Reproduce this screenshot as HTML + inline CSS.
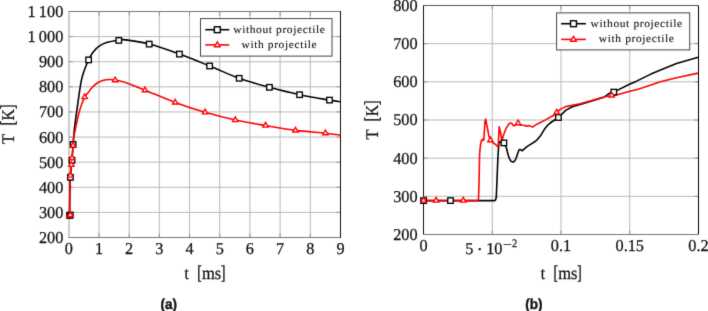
<!DOCTYPE html>
<html><head><meta charset="utf-8"><style>
html,body{margin:0;padding:0;background:#fff;width:708px;height:311px;overflow:hidden}
text{text-rendering:geometricPrecision}
svg{display:block}
.tk{font-family:"Liberation Serif",serif;fill:#111;stroke:#111;stroke-width:0.25px}
.lg{font-family:"Liberation Serif",serif;fill:#111;stroke:#111;stroke-width:0.1px}
.cap{font-family:"Liberation Sans",sans-serif;font-weight:bold;font-size:13.5px;fill:#111;stroke:#111;stroke-width:0.35px}
</style></head><body>
<svg width="708" height="311" viewBox="0 0 708 311">
<defs><filter id="bl" x="0" y="0" width="708" height="311" filterUnits="userSpaceOnUse" color-interpolation-filters="sRGB"><feConvolveMatrix order="3" kernelMatrix="0.01145 0.08421 0.01145 0.08421 0.61937 0.08421 0.01145 0.08421 0.01145" divisor="1" edgeMode="duplicate"/></filter></defs>
<g>
<line x1="98.99" y1="237.50" x2="98.99" y2="11.50" stroke="#b8b8b8" stroke-width="1"/>
<line x1="129.18" y1="237.50" x2="129.18" y2="11.50" stroke="#b8b8b8" stroke-width="1"/>
<line x1="159.37" y1="237.50" x2="159.37" y2="11.50" stroke="#b8b8b8" stroke-width="1"/>
<line x1="189.56" y1="237.50" x2="189.56" y2="11.50" stroke="#b8b8b8" stroke-width="1"/>
<line x1="219.74" y1="237.50" x2="219.74" y2="11.50" stroke="#b8b8b8" stroke-width="1"/>
<line x1="249.93" y1="237.50" x2="249.93" y2="11.50" stroke="#b8b8b8" stroke-width="1"/>
<line x1="280.12" y1="237.50" x2="280.12" y2="11.50" stroke="#b8b8b8" stroke-width="1"/>
<line x1="310.31" y1="237.50" x2="310.31" y2="11.50" stroke="#b8b8b8" stroke-width="1"/>
<line x1="68.80" y1="212.39" x2="340.50" y2="212.39" stroke="#b8b8b8" stroke-width="1"/>
<line x1="68.80" y1="187.28" x2="340.50" y2="187.28" stroke="#b8b8b8" stroke-width="1"/>
<line x1="68.80" y1="162.17" x2="340.50" y2="162.17" stroke="#b8b8b8" stroke-width="1"/>
<line x1="68.80" y1="137.06" x2="340.50" y2="137.06" stroke="#b8b8b8" stroke-width="1"/>
<line x1="68.80" y1="111.94" x2="340.50" y2="111.94" stroke="#b8b8b8" stroke-width="1"/>
<line x1="68.80" y1="86.83" x2="340.50" y2="86.83" stroke="#b8b8b8" stroke-width="1"/>
<line x1="68.80" y1="61.72" x2="340.50" y2="61.72" stroke="#b8b8b8" stroke-width="1"/>
<line x1="68.80" y1="36.61" x2="340.50" y2="36.61" stroke="#b8b8b8" stroke-width="1"/>
<line x1="492.25" y1="234.50" x2="492.25" y2="5.50" stroke="#b8b8b8" stroke-width="1"/>
<line x1="561.00" y1="234.50" x2="561.00" y2="5.50" stroke="#b8b8b8" stroke-width="1"/>
<line x1="629.75" y1="234.50" x2="629.75" y2="5.50" stroke="#b8b8b8" stroke-width="1"/>
<line x1="423.50" y1="196.33" x2="698.50" y2="196.33" stroke="#b8b8b8" stroke-width="1"/>
<line x1="423.50" y1="158.17" x2="698.50" y2="158.17" stroke="#b8b8b8" stroke-width="1"/>
<line x1="423.50" y1="120.00" x2="698.50" y2="120.00" stroke="#b8b8b8" stroke-width="1"/>
<line x1="423.50" y1="81.83" x2="698.50" y2="81.83" stroke="#b8b8b8" stroke-width="1"/>
<line x1="423.50" y1="43.67" x2="698.50" y2="43.67" stroke="#b8b8b8" stroke-width="1"/>
<line x1="98.99" y1="237.50" x2="98.99" y2="233.50" stroke="#8c8c8c" stroke-width="0.9"/>
<line x1="98.99" y1="11.50" x2="98.99" y2="15.50" stroke="#8c8c8c" stroke-width="0.9"/>
<line x1="129.18" y1="237.50" x2="129.18" y2="233.50" stroke="#8c8c8c" stroke-width="0.9"/>
<line x1="129.18" y1="11.50" x2="129.18" y2="15.50" stroke="#8c8c8c" stroke-width="0.9"/>
<line x1="159.37" y1="237.50" x2="159.37" y2="233.50" stroke="#8c8c8c" stroke-width="0.9"/>
<line x1="159.37" y1="11.50" x2="159.37" y2="15.50" stroke="#8c8c8c" stroke-width="0.9"/>
<line x1="189.56" y1="237.50" x2="189.56" y2="233.50" stroke="#8c8c8c" stroke-width="0.9"/>
<line x1="189.56" y1="11.50" x2="189.56" y2="15.50" stroke="#8c8c8c" stroke-width="0.9"/>
<line x1="219.74" y1="237.50" x2="219.74" y2="233.50" stroke="#8c8c8c" stroke-width="0.9"/>
<line x1="219.74" y1="11.50" x2="219.74" y2="15.50" stroke="#8c8c8c" stroke-width="0.9"/>
<line x1="249.93" y1="237.50" x2="249.93" y2="233.50" stroke="#8c8c8c" stroke-width="0.9"/>
<line x1="249.93" y1="11.50" x2="249.93" y2="15.50" stroke="#8c8c8c" stroke-width="0.9"/>
<line x1="280.12" y1="237.50" x2="280.12" y2="233.50" stroke="#8c8c8c" stroke-width="0.9"/>
<line x1="280.12" y1="11.50" x2="280.12" y2="15.50" stroke="#8c8c8c" stroke-width="0.9"/>
<line x1="310.31" y1="237.50" x2="310.31" y2="233.50" stroke="#8c8c8c" stroke-width="0.9"/>
<line x1="310.31" y1="11.50" x2="310.31" y2="15.50" stroke="#8c8c8c" stroke-width="0.9"/>
<line x1="68.80" y1="212.39" x2="72.80" y2="212.39" stroke="#8c8c8c" stroke-width="0.9"/>
<line x1="340.50" y1="212.39" x2="336.50" y2="212.39" stroke="#8c8c8c" stroke-width="0.9"/>
<line x1="68.80" y1="187.28" x2="72.80" y2="187.28" stroke="#8c8c8c" stroke-width="0.9"/>
<line x1="340.50" y1="187.28" x2="336.50" y2="187.28" stroke="#8c8c8c" stroke-width="0.9"/>
<line x1="68.80" y1="162.17" x2="72.80" y2="162.17" stroke="#8c8c8c" stroke-width="0.9"/>
<line x1="340.50" y1="162.17" x2="336.50" y2="162.17" stroke="#8c8c8c" stroke-width="0.9"/>
<line x1="68.80" y1="137.06" x2="72.80" y2="137.06" stroke="#8c8c8c" stroke-width="0.9"/>
<line x1="340.50" y1="137.06" x2="336.50" y2="137.06" stroke="#8c8c8c" stroke-width="0.9"/>
<line x1="68.80" y1="111.94" x2="72.80" y2="111.94" stroke="#8c8c8c" stroke-width="0.9"/>
<line x1="340.50" y1="111.94" x2="336.50" y2="111.94" stroke="#8c8c8c" stroke-width="0.9"/>
<line x1="68.80" y1="86.83" x2="72.80" y2="86.83" stroke="#8c8c8c" stroke-width="0.9"/>
<line x1="340.50" y1="86.83" x2="336.50" y2="86.83" stroke="#8c8c8c" stroke-width="0.9"/>
<line x1="68.80" y1="61.72" x2="72.80" y2="61.72" stroke="#8c8c8c" stroke-width="0.9"/>
<line x1="340.50" y1="61.72" x2="336.50" y2="61.72" stroke="#8c8c8c" stroke-width="0.9"/>
<line x1="68.80" y1="36.61" x2="72.80" y2="36.61" stroke="#8c8c8c" stroke-width="0.9"/>
<line x1="340.50" y1="36.61" x2="336.50" y2="36.61" stroke="#8c8c8c" stroke-width="0.9"/>
<line x1="492.25" y1="234.50" x2="492.25" y2="230.50" stroke="#8c8c8c" stroke-width="0.9"/>
<line x1="492.25" y1="5.50" x2="492.25" y2="9.50" stroke="#8c8c8c" stroke-width="0.9"/>
<line x1="561.00" y1="234.50" x2="561.00" y2="230.50" stroke="#8c8c8c" stroke-width="0.9"/>
<line x1="561.00" y1="5.50" x2="561.00" y2="9.50" stroke="#8c8c8c" stroke-width="0.9"/>
<line x1="629.75" y1="234.50" x2="629.75" y2="230.50" stroke="#8c8c8c" stroke-width="0.9"/>
<line x1="629.75" y1="5.50" x2="629.75" y2="9.50" stroke="#8c8c8c" stroke-width="0.9"/>
<line x1="423.50" y1="196.33" x2="427.50" y2="196.33" stroke="#8c8c8c" stroke-width="0.9"/>
<line x1="698.50" y1="196.33" x2="694.50" y2="196.33" stroke="#8c8c8c" stroke-width="0.9"/>
<line x1="423.50" y1="158.17" x2="427.50" y2="158.17" stroke="#8c8c8c" stroke-width="0.9"/>
<line x1="698.50" y1="158.17" x2="694.50" y2="158.17" stroke="#8c8c8c" stroke-width="0.9"/>
<line x1="423.50" y1="120.00" x2="427.50" y2="120.00" stroke="#8c8c8c" stroke-width="0.9"/>
<line x1="698.50" y1="120.00" x2="694.50" y2="120.00" stroke="#8c8c8c" stroke-width="0.9"/>
<line x1="423.50" y1="81.83" x2="427.50" y2="81.83" stroke="#8c8c8c" stroke-width="0.9"/>
<line x1="698.50" y1="81.83" x2="694.50" y2="81.83" stroke="#8c8c8c" stroke-width="0.9"/>
<line x1="423.50" y1="43.67" x2="427.50" y2="43.67" stroke="#8c8c8c" stroke-width="0.9"/>
<line x1="698.50" y1="43.67" x2="694.50" y2="43.67" stroke="#8c8c8c" stroke-width="0.9"/>
<line x1="69.00" y1="11.50" x2="69.00" y2="237.50" stroke="#999" stroke-width="1.0"/>
<line x1="68.50" y1="11.50" x2="341.00" y2="11.50" stroke="#777" stroke-width="1.0"/>
<line x1="68.50" y1="237.50" x2="341.00" y2="237.50" stroke="#777" stroke-width="1.0"/>
<line x1="340.50" y1="11.00" x2="340.50" y2="238.00" stroke="#111" stroke-width="1.0"/>
<line x1="423.50" y1="5.00" x2="423.50" y2="235.00" stroke="#111" stroke-width="1.0"/>
<line x1="698.50" y1="5.00" x2="698.50" y2="235.00" stroke="#000" stroke-width="1.0"/>
<line x1="423.00" y1="5.50" x2="699.00" y2="5.50" stroke="#555" stroke-width="1.0"/>
<line x1="423.00" y1="234.50" x2="699.00" y2="234.50" stroke="#777" stroke-width="1.0"/>
<path d="M69.60,215.40 C69.63,212.00 69.67,201.35 69.80,195.00 C69.93,188.65 70.17,181.80 70.40,177.30 C70.63,172.80 70.93,170.83 71.20,168.00 C71.47,165.17 71.77,162.97 72.00,160.30 C72.23,157.63 72.38,155.05 72.60,152.00 C72.82,148.95 73.02,145.63 73.30,142.00 C73.58,138.37 73.90,134.10 74.30,130.20 C74.70,126.30 75.15,122.78 75.70,118.60 C76.25,114.42 76.97,109.60 77.60,105.10 C78.23,100.60 78.83,95.88 79.50,91.60 C80.17,87.32 80.77,83.03 81.60,79.40 C82.43,75.77 83.33,73.05 84.50,69.80 C85.67,66.55 87.18,62.83 88.60,59.90 C90.02,56.97 91.30,54.45 93.00,52.20 C94.70,49.95 96.55,48.02 98.80,46.40 C101.05,44.78 103.18,43.53 106.50,42.50 C109.82,41.47 115.45,40.63 118.70,40.20 C121.95,39.77 120.92,39.25 126.00,39.90 C131.08,40.55 140.30,41.73 149.20,44.10 C158.10,46.47 169.33,50.45 179.40,54.10 C189.47,57.75 199.63,61.97 209.60,66.00 C219.57,70.03 229.23,74.75 239.20,78.30 C249.17,81.85 259.33,84.57 269.40,87.30 C279.47,90.03 289.58,92.57 299.60,94.70 C309.62,96.83 322.70,98.93 329.50,100.10 C336.30,101.27 338.58,101.43 340.40,101.70" fill="none" stroke="#000" stroke-width="1.6" stroke-linejoin="round"/>
<path d="M69.60,215.40 C69.63,212.00 69.67,201.65 69.80,195.00 C69.93,188.35 70.13,180.53 70.40,175.50 C70.67,170.47 71.13,167.68 71.40,164.80 C71.67,161.92 71.80,160.50 72.00,158.20 C72.20,155.90 72.32,154.38 72.60,151.00 C72.88,147.62 73.13,142.02 73.70,137.90 C74.27,133.78 75.20,130.17 76.00,126.30 C76.80,122.43 77.60,118.23 78.50,114.70 C79.40,111.17 80.33,108.08 81.40,105.10 C82.47,102.12 83.72,98.95 84.90,96.80 C86.08,94.65 87.42,93.62 88.50,92.20 C89.58,90.78 90.27,89.58 91.40,88.30 C92.53,87.02 93.85,85.62 95.30,84.50 C96.75,83.38 98.33,82.38 100.10,81.60 C101.87,80.82 104.25,80.15 105.90,79.80 C107.55,79.45 108.48,79.47 110.00,79.50 C111.52,79.53 112.68,79.57 115.00,80.00 C117.32,80.43 118.90,80.40 123.90,82.10 C128.90,83.80 136.45,86.82 145.00,90.20 C153.55,93.58 165.18,98.72 175.20,102.40 C185.22,106.08 195.08,109.37 205.10,112.30 C215.12,115.23 225.22,117.80 235.30,120.00 C245.38,122.20 255.57,123.77 265.60,125.50 C275.63,127.23 285.53,129.12 295.50,130.40 C305.47,131.68 317.92,132.40 325.40,133.20 C332.88,134.00 337.90,134.87 340.40,135.20" fill="none" stroke="#f00" stroke-width="1.6" stroke-linejoin="round"/>
<path d="M423.40,200.60 L494.60,200.60 L495.60,199.80 L496.30,197.00 L497.00,180.00 L497.80,160.00 L498.50,148.00 L499.20,141.70 L501.00,142.20 L503.90,142.90 L505.20,145.00 L506.40,148.00 L507.40,152.00 L508.40,155.70 L509.40,158.50 L510.30,160.20 L511.20,161.40 L512.20,161.90 L513.20,161.90 L514.10,161.50 L515.10,160.20 L516.10,158.30 L517.00,155.50 L518.00,152.50 L518.80,150.50 L519.50,149.50 L520.50,149.50 L521.30,150.30 L522.10,150.80 L523.80,149.30 L527.00,146.70 L530.90,144.10 L534.70,141.80 L537.30,139.60 L540.90,135.20 L544.70,128.80 L548.60,124.30 L551.60,122.00 L558.40,117.50 L565.70,110.40 L572.20,106.80 L580.00,104.60 L591.00,101.20 L603.80,97.30 L608.90,93.60 L613.80,92.10 L616.60,90.60 L629.50,84.20 L636.00,81.40 L650.90,74.10 L663.00,68.90 L676.50,63.50 L698.20,57.20" fill="none" stroke="#000" stroke-width="1.6" stroke-linejoin="round"/>
<path d="M423.40,200.60 L470.00,200.60 L477.60,200.60 L478.50,199.00 L479.00,185.00 L479.30,170.00 L479.60,154.00 L480.50,144.90 L481.10,141.70 L481.80,139.70 L482.70,140.40 L483.10,139.10 L483.80,140.00 L485.00,121.70 L485.60,119.10 L486.90,125.60 L488.20,132.00 L488.90,136.50 L490.10,137.20 L491.20,139.50 L492.70,142.30 L494.00,143.60 L495.30,144.20 L496.60,145.50 L497.90,146.80 L498.40,143.00 L499.20,126.90 L500.40,132.00 L501.70,139.10 L502.30,139.30 L503.70,134.60 L505.60,129.40 L508.20,124.90 L510.10,123.00 L511.90,123.30 L513.20,125.60 L514.50,125.60 L516.00,124.30 L518.10,122.60 L520.30,124.90 L522.90,125.30 L525.40,125.60 L526.70,126.20 L529.30,125.60 L532.50,127.10 L535.70,124.90 L540.00,122.70 L546.40,119.40 L552.90,115.80 L556.70,112.60 L560.60,109.10 L565.70,106.60 L572.20,105.30 L580.00,103.80 L591.00,100.80 L603.80,97.00 L611.70,95.50 L616.60,94.90 L627.00,92.10 L638.00,89.30 L648.00,86.00 L660.30,81.80 L676.50,77.70 L698.20,73.10" fill="none" stroke="#f00" stroke-width="1.6" stroke-linejoin="round"/>
<rect x="66.85" y="212.65" width="5.50" height="5.50" fill="#fff" stroke="#000" stroke-width="1.35"/>
<rect x="67.55" y="212.35" width="5.50" height="5.50" fill="#fff" stroke="#000" stroke-width="1.35"/>
<rect x="67.65" y="174.55" width="5.50" height="5.50" fill="#fff" stroke="#000" stroke-width="1.35"/>
<rect x="69.25" y="157.55" width="5.50" height="5.50" fill="#fff" stroke="#000" stroke-width="1.35"/>
<rect x="70.35" y="141.75" width="5.50" height="5.50" fill="#fff" stroke="#000" stroke-width="1.35"/>
<rect x="85.85" y="57.15" width="5.50" height="5.50" fill="#fff" stroke="#000" stroke-width="1.35"/>
<rect x="116.05" y="37.65" width="5.50" height="5.50" fill="#fff" stroke="#000" stroke-width="1.35"/>
<rect x="146.45" y="41.35" width="5.50" height="5.50" fill="#fff" stroke="#000" stroke-width="1.35"/>
<rect x="176.65" y="51.35" width="5.50" height="5.50" fill="#fff" stroke="#000" stroke-width="1.35"/>
<rect x="206.85" y="63.25" width="5.50" height="5.50" fill="#fff" stroke="#000" stroke-width="1.35"/>
<rect x="236.45" y="75.55" width="5.50" height="5.50" fill="#fff" stroke="#000" stroke-width="1.35"/>
<rect x="266.65" y="84.55" width="5.50" height="5.50" fill="#fff" stroke="#000" stroke-width="1.35"/>
<rect x="296.85" y="91.95" width="5.50" height="5.50" fill="#fff" stroke="#000" stroke-width="1.35"/>
<rect x="326.75" y="97.35" width="5.50" height="5.50" fill="#fff" stroke="#000" stroke-width="1.35"/>
<polygon points="69.60,212.30 72.28,216.95 66.92,216.95" fill="#fff" stroke="#f00" stroke-width="1.35"/>
<polygon points="70.30,211.90 72.98,216.55 67.62,216.55" fill="#fff" stroke="#f00" stroke-width="1.35"/>
<polygon points="70.40,172.40 73.08,177.05 67.72,177.05" fill="#fff" stroke="#f00" stroke-width="1.35"/>
<polygon points="71.40,161.70 74.08,166.35 68.72,166.35" fill="#fff" stroke="#f00" stroke-width="1.35"/>
<polygon points="72.00,155.10 74.68,159.75 69.32,159.75" fill="#fff" stroke="#f00" stroke-width="1.35"/>
<polygon points="73.10,142.40 75.78,147.05 70.42,147.05" fill="#fff" stroke="#f00" stroke-width="1.35"/>
<polygon points="84.70,93.90 87.38,98.55 82.02,98.55" fill="#fff" stroke="#f00" stroke-width="1.35"/>
<polygon points="115.20,77.10 117.88,81.75 112.52,81.75" fill="#fff" stroke="#f00" stroke-width="1.35"/>
<polygon points="145.00,87.10 147.68,91.75 142.32,91.75" fill="#fff" stroke="#f00" stroke-width="1.35"/>
<polygon points="175.20,99.30 177.88,103.95 172.52,103.95" fill="#fff" stroke="#f00" stroke-width="1.35"/>
<polygon points="205.10,109.20 207.78,113.85 202.42,113.85" fill="#fff" stroke="#f00" stroke-width="1.35"/>
<polygon points="235.30,116.90 237.98,121.55 232.62,121.55" fill="#fff" stroke="#f00" stroke-width="1.35"/>
<polygon points="265.60,122.40 268.28,127.05 262.92,127.05" fill="#fff" stroke="#f00" stroke-width="1.35"/>
<polygon points="295.50,127.30 298.18,131.95 292.82,131.95" fill="#fff" stroke="#f00" stroke-width="1.35"/>
<polygon points="325.40,130.10 328.08,134.75 322.72,134.75" fill="#fff" stroke="#f00" stroke-width="1.35"/>
<rect x="420.85" y="197.85" width="5.50" height="5.50" fill="#fff" stroke="#000" stroke-width="1.35"/>
<rect x="447.75" y="197.85" width="5.50" height="5.50" fill="#fff" stroke="#000" stroke-width="1.35"/>
<rect x="501.15" y="140.15" width="5.50" height="5.50" fill="#fff" stroke="#000" stroke-width="1.35"/>
<rect x="555.65" y="114.75" width="5.50" height="5.50" fill="#fff" stroke="#000" stroke-width="1.35"/>
<rect x="611.05" y="89.35" width="5.50" height="5.50" fill="#fff" stroke="#000" stroke-width="1.35"/>
<polygon points="423.60,197.40 426.28,202.05 420.92,202.05" fill="#fff" stroke="#f00" stroke-width="1.35"/>
<polygon points="436.10,197.40 438.78,202.05 433.42,202.05" fill="#fff" stroke="#f00" stroke-width="1.35"/>
<polygon points="463.30,197.40 465.98,202.05 460.62,202.05" fill="#fff" stroke="#f00" stroke-width="1.35"/>
<polygon points="490.40,137.10 493.08,141.75 487.72,141.75" fill="#fff" stroke="#f00" stroke-width="1.35"/>
<polygon points="518.10,120.10 520.78,124.75 515.42,124.75" fill="#fff" stroke="#f00" stroke-width="1.35"/>
<polygon points="556.70,109.30 559.38,113.95 554.02,113.95" fill="#fff" stroke="#f00" stroke-width="1.35"/>
<polygon points="611.70,92.30 614.38,96.95 609.02,96.95" fill="#fff" stroke="#f00" stroke-width="1.35"/>
<rect x="200.50" y="18.60" width="131.50" height="37.50" fill="#fff" stroke="#444" stroke-width="1"/><line x1="205.30" y1="29.70" x2="229.30" y2="29.70" stroke="#000" stroke-width="1.6"/><rect x="214.35" y="26.75" width="5.90" height="5.90" fill="#fff" stroke="#000" stroke-width="1.4"/><line x1="205.30" y1="44.90" x2="229.30" y2="44.90" stroke="#f00" stroke-width="1.6"/><polygon points="217.30,41.80 220.16,46.75 214.44,46.75" fill="#fff" stroke="#f00" stroke-width="1.4"/><text transform="translate(279.40,32.50) scale(1.0,0.95)" text-anchor="middle" class="lg" style="font-size:11.5px;letter-spacing:0.6px">without projectile</text><text transform="translate(279.40,47.80) scale(1.0,0.95)" text-anchor="middle" class="lg" style="font-size:11.5px;letter-spacing:0.6px">with projectile</text>
<rect x="556.60" y="12.90" width="133.10" height="37.00" fill="#fff" stroke="#444" stroke-width="1"/><line x1="561.10" y1="23.70" x2="585.90" y2="23.70" stroke="#000" stroke-width="1.6"/><rect x="570.55" y="20.75" width="5.90" height="5.90" fill="#fff" stroke="#000" stroke-width="1.4"/><line x1="561.10" y1="39.40" x2="585.90" y2="39.40" stroke="#f00" stroke-width="1.6"/><polygon points="573.50,36.30 576.36,41.25 570.64,41.25" fill="#fff" stroke="#f00" stroke-width="1.4"/><text transform="translate(636.70,26.50) scale(1.0,0.95)" text-anchor="middle" class="lg" style="font-size:11.5px;letter-spacing:0.6px">without projectile</text><text transform="translate(636.70,41.90) scale(1.0,0.95)" text-anchor="middle" class="lg" style="font-size:11.5px;letter-spacing:0.6px">with projectile</text>
<text transform="translate(63.30,242.95) scale(1.0,1.02)" text-anchor="end" class="tk" style="font-size:16.3px">200</text>
<text transform="translate(63.30,217.84) scale(1.0,1.02)" text-anchor="end" class="tk" style="font-size:16.3px">300</text>
<text transform="translate(63.30,192.73) scale(1.0,1.02)" text-anchor="end" class="tk" style="font-size:16.3px">400</text>
<text transform="translate(63.30,167.62) scale(1.0,1.02)" text-anchor="end" class="tk" style="font-size:16.3px">500</text>
<text transform="translate(63.30,142.51) scale(1.0,1.02)" text-anchor="end" class="tk" style="font-size:16.3px">600</text>
<text transform="translate(63.30,117.39) scale(1.0,1.02)" text-anchor="end" class="tk" style="font-size:16.3px">700</text>
<text transform="translate(63.30,92.28) scale(1.0,1.02)" text-anchor="end" class="tk" style="font-size:16.3px">800</text>
<text transform="translate(63.30,67.17) scale(1.0,1.02)" text-anchor="end" class="tk" style="font-size:16.3px">900</text>
<text transform="translate(63.30,42.06) scale(1.0,1.02)" text-anchor="end" class="tk" style="font-size:16.3px">1 000</text>
<text transform="translate(63.30,16.95) scale(1.0,1.02)" text-anchor="end" class="tk" style="font-size:16.3px">1 100</text>
<text transform="translate(68.80,253.60) scale(1.0,1.02)" text-anchor="middle" class="tk" style="font-size:16.3px">0</text>
<text transform="translate(98.99,253.60) scale(1.0,1.02)" text-anchor="middle" class="tk" style="font-size:16.3px">1</text>
<text transform="translate(129.18,253.60) scale(1.0,1.02)" text-anchor="middle" class="tk" style="font-size:16.3px">2</text>
<text transform="translate(159.37,253.60) scale(1.0,1.02)" text-anchor="middle" class="tk" style="font-size:16.3px">3</text>
<text transform="translate(189.56,253.60) scale(1.0,1.02)" text-anchor="middle" class="tk" style="font-size:16.3px">4</text>
<text transform="translate(219.74,253.60) scale(1.0,1.02)" text-anchor="middle" class="tk" style="font-size:16.3px">5</text>
<text transform="translate(249.93,253.60) scale(1.0,1.02)" text-anchor="middle" class="tk" style="font-size:16.3px">6</text>
<text transform="translate(280.12,253.60) scale(1.0,1.02)" text-anchor="middle" class="tk" style="font-size:16.3px">7</text>
<text transform="translate(310.31,253.60) scale(1.0,1.02)" text-anchor="middle" class="tk" style="font-size:16.3px">8</text>
<text transform="translate(340.50,253.60) scale(1.0,1.02)" text-anchor="middle" class="tk" style="font-size:16.3px">9</text>
<text transform="translate(417.60,239.95) scale(1.0,1.02)" text-anchor="end" class="tk" style="font-size:16.3px">200</text>
<text transform="translate(417.60,201.78) scale(1.0,1.02)" text-anchor="end" class="tk" style="font-size:16.3px">300</text>
<text transform="translate(417.60,163.62) scale(1.0,1.02)" text-anchor="end" class="tk" style="font-size:16.3px">400</text>
<text transform="translate(417.60,125.45) scale(1.0,1.02)" text-anchor="end" class="tk" style="font-size:16.3px">500</text>
<text transform="translate(417.60,87.28) scale(1.0,1.02)" text-anchor="end" class="tk" style="font-size:16.3px">600</text>
<text transform="translate(417.60,49.12) scale(1.0,1.02)" text-anchor="end" class="tk" style="font-size:16.3px">700</text>
<text transform="translate(417.60,10.95) scale(1.0,1.02)" text-anchor="end" class="tk" style="font-size:16.3px">800</text>
<text transform="translate(423.50,251.00) scale(1.0,1.02)" text-anchor="middle" class="tk" style="font-size:16.3px">0</text>
<text transform="translate(561.00,251.00) scale(1.0,1.02)" text-anchor="middle" class="tk" style="font-size:16.3px">0.1</text>
<text transform="translate(629.75,251.00) scale(1.0,1.02)" text-anchor="middle" class="tk" style="font-size:16.3px">0.15</text>
<text transform="translate(698.50,251.00) scale(1.0,1.02)" text-anchor="middle" class="tk" style="font-size:16.3px">0.2</text>
<text transform="translate(469.40,253.60) scale(1.0,1.02)" text-anchor="middle" class="tk" style="font-size:16.3px">5</text>
<text transform="translate(479.80,255.30) scale(1.1,1.1)" text-anchor="middle" class="tk" style="font-size:16.3px">·</text>
<text transform="translate(494.30,253.60) scale(1.0,1.02)" text-anchor="middle" class="tk" style="font-size:16.3px">10</text>
<text transform="translate(507.40,248.40) scale(1.5,1.0)" text-anchor="middle" class="tk" style="font-size:10.5px">−</text>
<text transform="translate(514.60,247.20) scale(1.0,1.08)" text-anchor="middle" class="tk" style="font-size:10.5px">2</text>
<text transform="translate(186.70,278.50) scale(1.05,1.08)" text-anchor="middle" class="tk" style="font-size:16.5px;stroke-width:0.1px">t</text><text transform="translate(199.50,278.60) scale(0.8,1.18)" text-anchor="middle" class="tk" style="font-size:16.5px;stroke-width:0.4px">[</text><text transform="translate(211.65,278.50) scale(1.0,1.08)" text-anchor="middle" class="tk" style="font-size:16.5px">ms</text><text transform="translate(223.20,278.60) scale(0.8,1.18)" text-anchor="middle" class="tk" style="font-size:16.5px;stroke-width:0.4px">]</text>
<text transform="translate(542.90,278.50) scale(1.05,1.08)" text-anchor="middle" class="tk" style="font-size:16.5px;stroke-width:0.1px">t</text><text transform="translate(555.70,278.60) scale(0.8,1.18)" text-anchor="middle" class="tk" style="font-size:16.5px;stroke-width:0.4px">[</text><text transform="translate(567.85,278.50) scale(1.0,1.08)" text-anchor="middle" class="tk" style="font-size:16.5px">ms</text><text transform="translate(579.40,278.60) scale(0.8,1.18)" text-anchor="middle" class="tk" style="font-size:16.5px;stroke-width:0.4px">]</text>
<g transform="translate(13.90,139.00) rotate(-90)"><text transform="translate(0.00,0.00) scale(1.0,1.08)" text-anchor="middle" class="tk" style="font-size:16.5px">T</text></g><g transform="translate(13.90,114.85) rotate(-90)"><text transform="translate(-8.25,0.10) scale(0.8,1.2)" text-anchor="middle" class="tk" style="font-size:16.5px;stroke-width:0.4px">[</text><text transform="translate(0.00,0.00) scale(0.95,1.08)" text-anchor="middle" class="tk" style="font-size:16.5px">K</text><text transform="translate(8.00,0.10) scale(0.8,1.2)" text-anchor="middle" class="tk" style="font-size:16.5px;stroke-width:0.4px">]</text></g>
<g transform="translate(378.20,134.40) rotate(-90)"><text transform="translate(0.00,0.00) scale(1.0,1.08)" text-anchor="middle" class="tk" style="font-size:16.5px">T</text></g><g transform="translate(378.20,110.70) rotate(-90)"><text transform="translate(-8.25,0.10) scale(0.8,1.2)" text-anchor="middle" class="tk" style="font-size:16.5px;stroke-width:0.4px">[</text><text transform="translate(0.00,0.00) scale(0.95,1.08)" text-anchor="middle" class="tk" style="font-size:16.5px">K</text><text transform="translate(8.00,0.10) scale(0.8,1.2)" text-anchor="middle" class="tk" style="font-size:16.5px;stroke-width:0.4px">]</text></g>
<text transform="translate(168.80,308.70) scale(1.0,1.08)" text-anchor="middle" class="cap" style="font-size:13.5px">(a)</text>
<text transform="translate(533.80,308.70) scale(1.0,1.08)" text-anchor="middle" class="cap" style="font-size:13.5px">(b)</text>
</g>
<g filter="url(#bl)"><rect width="708" height="311" fill="#fff"/>
<line x1="98.99" y1="237.50" x2="98.99" y2="11.50" stroke="#b8b8b8" stroke-width="1"/>
<line x1="129.18" y1="237.50" x2="129.18" y2="11.50" stroke="#b8b8b8" stroke-width="1"/>
<line x1="159.37" y1="237.50" x2="159.37" y2="11.50" stroke="#b8b8b8" stroke-width="1"/>
<line x1="189.56" y1="237.50" x2="189.56" y2="11.50" stroke="#b8b8b8" stroke-width="1"/>
<line x1="219.74" y1="237.50" x2="219.74" y2="11.50" stroke="#b8b8b8" stroke-width="1"/>
<line x1="249.93" y1="237.50" x2="249.93" y2="11.50" stroke="#b8b8b8" stroke-width="1"/>
<line x1="280.12" y1="237.50" x2="280.12" y2="11.50" stroke="#b8b8b8" stroke-width="1"/>
<line x1="310.31" y1="237.50" x2="310.31" y2="11.50" stroke="#b8b8b8" stroke-width="1"/>
<line x1="68.80" y1="212.39" x2="340.50" y2="212.39" stroke="#b8b8b8" stroke-width="1"/>
<line x1="68.80" y1="187.28" x2="340.50" y2="187.28" stroke="#b8b8b8" stroke-width="1"/>
<line x1="68.80" y1="162.17" x2="340.50" y2="162.17" stroke="#b8b8b8" stroke-width="1"/>
<line x1="68.80" y1="137.06" x2="340.50" y2="137.06" stroke="#b8b8b8" stroke-width="1"/>
<line x1="68.80" y1="111.94" x2="340.50" y2="111.94" stroke="#b8b8b8" stroke-width="1"/>
<line x1="68.80" y1="86.83" x2="340.50" y2="86.83" stroke="#b8b8b8" stroke-width="1"/>
<line x1="68.80" y1="61.72" x2="340.50" y2="61.72" stroke="#b8b8b8" stroke-width="1"/>
<line x1="68.80" y1="36.61" x2="340.50" y2="36.61" stroke="#b8b8b8" stroke-width="1"/>
<line x1="492.25" y1="234.50" x2="492.25" y2="5.50" stroke="#b8b8b8" stroke-width="1"/>
<line x1="561.00" y1="234.50" x2="561.00" y2="5.50" stroke="#b8b8b8" stroke-width="1"/>
<line x1="629.75" y1="234.50" x2="629.75" y2="5.50" stroke="#b8b8b8" stroke-width="1"/>
<line x1="423.50" y1="196.33" x2="698.50" y2="196.33" stroke="#b8b8b8" stroke-width="1"/>
<line x1="423.50" y1="158.17" x2="698.50" y2="158.17" stroke="#b8b8b8" stroke-width="1"/>
<line x1="423.50" y1="120.00" x2="698.50" y2="120.00" stroke="#b8b8b8" stroke-width="1"/>
<line x1="423.50" y1="81.83" x2="698.50" y2="81.83" stroke="#b8b8b8" stroke-width="1"/>
<line x1="423.50" y1="43.67" x2="698.50" y2="43.67" stroke="#b8b8b8" stroke-width="1"/>
<line x1="98.99" y1="237.50" x2="98.99" y2="233.50" stroke="#8c8c8c" stroke-width="0.9"/>
<line x1="98.99" y1="11.50" x2="98.99" y2="15.50" stroke="#8c8c8c" stroke-width="0.9"/>
<line x1="129.18" y1="237.50" x2="129.18" y2="233.50" stroke="#8c8c8c" stroke-width="0.9"/>
<line x1="129.18" y1="11.50" x2="129.18" y2="15.50" stroke="#8c8c8c" stroke-width="0.9"/>
<line x1="159.37" y1="237.50" x2="159.37" y2="233.50" stroke="#8c8c8c" stroke-width="0.9"/>
<line x1="159.37" y1="11.50" x2="159.37" y2="15.50" stroke="#8c8c8c" stroke-width="0.9"/>
<line x1="189.56" y1="237.50" x2="189.56" y2="233.50" stroke="#8c8c8c" stroke-width="0.9"/>
<line x1="189.56" y1="11.50" x2="189.56" y2="15.50" stroke="#8c8c8c" stroke-width="0.9"/>
<line x1="219.74" y1="237.50" x2="219.74" y2="233.50" stroke="#8c8c8c" stroke-width="0.9"/>
<line x1="219.74" y1="11.50" x2="219.74" y2="15.50" stroke="#8c8c8c" stroke-width="0.9"/>
<line x1="249.93" y1="237.50" x2="249.93" y2="233.50" stroke="#8c8c8c" stroke-width="0.9"/>
<line x1="249.93" y1="11.50" x2="249.93" y2="15.50" stroke="#8c8c8c" stroke-width="0.9"/>
<line x1="280.12" y1="237.50" x2="280.12" y2="233.50" stroke="#8c8c8c" stroke-width="0.9"/>
<line x1="280.12" y1="11.50" x2="280.12" y2="15.50" stroke="#8c8c8c" stroke-width="0.9"/>
<line x1="310.31" y1="237.50" x2="310.31" y2="233.50" stroke="#8c8c8c" stroke-width="0.9"/>
<line x1="310.31" y1="11.50" x2="310.31" y2="15.50" stroke="#8c8c8c" stroke-width="0.9"/>
<line x1="68.80" y1="212.39" x2="72.80" y2="212.39" stroke="#8c8c8c" stroke-width="0.9"/>
<line x1="340.50" y1="212.39" x2="336.50" y2="212.39" stroke="#8c8c8c" stroke-width="0.9"/>
<line x1="68.80" y1="187.28" x2="72.80" y2="187.28" stroke="#8c8c8c" stroke-width="0.9"/>
<line x1="340.50" y1="187.28" x2="336.50" y2="187.28" stroke="#8c8c8c" stroke-width="0.9"/>
<line x1="68.80" y1="162.17" x2="72.80" y2="162.17" stroke="#8c8c8c" stroke-width="0.9"/>
<line x1="340.50" y1="162.17" x2="336.50" y2="162.17" stroke="#8c8c8c" stroke-width="0.9"/>
<line x1="68.80" y1="137.06" x2="72.80" y2="137.06" stroke="#8c8c8c" stroke-width="0.9"/>
<line x1="340.50" y1="137.06" x2="336.50" y2="137.06" stroke="#8c8c8c" stroke-width="0.9"/>
<line x1="68.80" y1="111.94" x2="72.80" y2="111.94" stroke="#8c8c8c" stroke-width="0.9"/>
<line x1="340.50" y1="111.94" x2="336.50" y2="111.94" stroke="#8c8c8c" stroke-width="0.9"/>
<line x1="68.80" y1="86.83" x2="72.80" y2="86.83" stroke="#8c8c8c" stroke-width="0.9"/>
<line x1="340.50" y1="86.83" x2="336.50" y2="86.83" stroke="#8c8c8c" stroke-width="0.9"/>
<line x1="68.80" y1="61.72" x2="72.80" y2="61.72" stroke="#8c8c8c" stroke-width="0.9"/>
<line x1="340.50" y1="61.72" x2="336.50" y2="61.72" stroke="#8c8c8c" stroke-width="0.9"/>
<line x1="68.80" y1="36.61" x2="72.80" y2="36.61" stroke="#8c8c8c" stroke-width="0.9"/>
<line x1="340.50" y1="36.61" x2="336.50" y2="36.61" stroke="#8c8c8c" stroke-width="0.9"/>
<line x1="492.25" y1="234.50" x2="492.25" y2="230.50" stroke="#8c8c8c" stroke-width="0.9"/>
<line x1="492.25" y1="5.50" x2="492.25" y2="9.50" stroke="#8c8c8c" stroke-width="0.9"/>
<line x1="561.00" y1="234.50" x2="561.00" y2="230.50" stroke="#8c8c8c" stroke-width="0.9"/>
<line x1="561.00" y1="5.50" x2="561.00" y2="9.50" stroke="#8c8c8c" stroke-width="0.9"/>
<line x1="629.75" y1="234.50" x2="629.75" y2="230.50" stroke="#8c8c8c" stroke-width="0.9"/>
<line x1="629.75" y1="5.50" x2="629.75" y2="9.50" stroke="#8c8c8c" stroke-width="0.9"/>
<line x1="423.50" y1="196.33" x2="427.50" y2="196.33" stroke="#8c8c8c" stroke-width="0.9"/>
<line x1="698.50" y1="196.33" x2="694.50" y2="196.33" stroke="#8c8c8c" stroke-width="0.9"/>
<line x1="423.50" y1="158.17" x2="427.50" y2="158.17" stroke="#8c8c8c" stroke-width="0.9"/>
<line x1="698.50" y1="158.17" x2="694.50" y2="158.17" stroke="#8c8c8c" stroke-width="0.9"/>
<line x1="423.50" y1="120.00" x2="427.50" y2="120.00" stroke="#8c8c8c" stroke-width="0.9"/>
<line x1="698.50" y1="120.00" x2="694.50" y2="120.00" stroke="#8c8c8c" stroke-width="0.9"/>
<line x1="423.50" y1="81.83" x2="427.50" y2="81.83" stroke="#8c8c8c" stroke-width="0.9"/>
<line x1="698.50" y1="81.83" x2="694.50" y2="81.83" stroke="#8c8c8c" stroke-width="0.9"/>
<line x1="423.50" y1="43.67" x2="427.50" y2="43.67" stroke="#8c8c8c" stroke-width="0.9"/>
<line x1="698.50" y1="43.67" x2="694.50" y2="43.67" stroke="#8c8c8c" stroke-width="0.9"/>
<line x1="69.00" y1="11.50" x2="69.00" y2="237.50" stroke="#999" stroke-width="1.0"/>
<line x1="68.50" y1="11.50" x2="341.00" y2="11.50" stroke="#777" stroke-width="1.0"/>
<line x1="68.50" y1="237.50" x2="341.00" y2="237.50" stroke="#777" stroke-width="1.0"/>
<line x1="340.50" y1="11.00" x2="340.50" y2="238.00" stroke="#111" stroke-width="1.0"/>
<line x1="423.50" y1="5.00" x2="423.50" y2="235.00" stroke="#111" stroke-width="1.0"/>
<line x1="698.50" y1="5.00" x2="698.50" y2="235.00" stroke="#000" stroke-width="1.0"/>
<line x1="423.00" y1="5.50" x2="699.00" y2="5.50" stroke="#555" stroke-width="1.0"/>
<line x1="423.00" y1="234.50" x2="699.00" y2="234.50" stroke="#777" stroke-width="1.0"/>
<path d="M69.60,215.40 C69.63,212.00 69.67,201.35 69.80,195.00 C69.93,188.65 70.17,181.80 70.40,177.30 C70.63,172.80 70.93,170.83 71.20,168.00 C71.47,165.17 71.77,162.97 72.00,160.30 C72.23,157.63 72.38,155.05 72.60,152.00 C72.82,148.95 73.02,145.63 73.30,142.00 C73.58,138.37 73.90,134.10 74.30,130.20 C74.70,126.30 75.15,122.78 75.70,118.60 C76.25,114.42 76.97,109.60 77.60,105.10 C78.23,100.60 78.83,95.88 79.50,91.60 C80.17,87.32 80.77,83.03 81.60,79.40 C82.43,75.77 83.33,73.05 84.50,69.80 C85.67,66.55 87.18,62.83 88.60,59.90 C90.02,56.97 91.30,54.45 93.00,52.20 C94.70,49.95 96.55,48.02 98.80,46.40 C101.05,44.78 103.18,43.53 106.50,42.50 C109.82,41.47 115.45,40.63 118.70,40.20 C121.95,39.77 120.92,39.25 126.00,39.90 C131.08,40.55 140.30,41.73 149.20,44.10 C158.10,46.47 169.33,50.45 179.40,54.10 C189.47,57.75 199.63,61.97 209.60,66.00 C219.57,70.03 229.23,74.75 239.20,78.30 C249.17,81.85 259.33,84.57 269.40,87.30 C279.47,90.03 289.58,92.57 299.60,94.70 C309.62,96.83 322.70,98.93 329.50,100.10 C336.30,101.27 338.58,101.43 340.40,101.70" fill="none" stroke="#000" stroke-width="1.6" stroke-linejoin="round"/>
<path d="M69.60,215.40 C69.63,212.00 69.67,201.65 69.80,195.00 C69.93,188.35 70.13,180.53 70.40,175.50 C70.67,170.47 71.13,167.68 71.40,164.80 C71.67,161.92 71.80,160.50 72.00,158.20 C72.20,155.90 72.32,154.38 72.60,151.00 C72.88,147.62 73.13,142.02 73.70,137.90 C74.27,133.78 75.20,130.17 76.00,126.30 C76.80,122.43 77.60,118.23 78.50,114.70 C79.40,111.17 80.33,108.08 81.40,105.10 C82.47,102.12 83.72,98.95 84.90,96.80 C86.08,94.65 87.42,93.62 88.50,92.20 C89.58,90.78 90.27,89.58 91.40,88.30 C92.53,87.02 93.85,85.62 95.30,84.50 C96.75,83.38 98.33,82.38 100.10,81.60 C101.87,80.82 104.25,80.15 105.90,79.80 C107.55,79.45 108.48,79.47 110.00,79.50 C111.52,79.53 112.68,79.57 115.00,80.00 C117.32,80.43 118.90,80.40 123.90,82.10 C128.90,83.80 136.45,86.82 145.00,90.20 C153.55,93.58 165.18,98.72 175.20,102.40 C185.22,106.08 195.08,109.37 205.10,112.30 C215.12,115.23 225.22,117.80 235.30,120.00 C245.38,122.20 255.57,123.77 265.60,125.50 C275.63,127.23 285.53,129.12 295.50,130.40 C305.47,131.68 317.92,132.40 325.40,133.20 C332.88,134.00 337.90,134.87 340.40,135.20" fill="none" stroke="#f00" stroke-width="1.6" stroke-linejoin="round"/>
<path d="M423.40,200.60 L494.60,200.60 L495.60,199.80 L496.30,197.00 L497.00,180.00 L497.80,160.00 L498.50,148.00 L499.20,141.70 L501.00,142.20 L503.90,142.90 L505.20,145.00 L506.40,148.00 L507.40,152.00 L508.40,155.70 L509.40,158.50 L510.30,160.20 L511.20,161.40 L512.20,161.90 L513.20,161.90 L514.10,161.50 L515.10,160.20 L516.10,158.30 L517.00,155.50 L518.00,152.50 L518.80,150.50 L519.50,149.50 L520.50,149.50 L521.30,150.30 L522.10,150.80 L523.80,149.30 L527.00,146.70 L530.90,144.10 L534.70,141.80 L537.30,139.60 L540.90,135.20 L544.70,128.80 L548.60,124.30 L551.60,122.00 L558.40,117.50 L565.70,110.40 L572.20,106.80 L580.00,104.60 L591.00,101.20 L603.80,97.30 L608.90,93.60 L613.80,92.10 L616.60,90.60 L629.50,84.20 L636.00,81.40 L650.90,74.10 L663.00,68.90 L676.50,63.50 L698.20,57.20" fill="none" stroke="#000" stroke-width="1.6" stroke-linejoin="round"/>
<path d="M423.40,200.60 L470.00,200.60 L477.60,200.60 L478.50,199.00 L479.00,185.00 L479.30,170.00 L479.60,154.00 L480.50,144.90 L481.10,141.70 L481.80,139.70 L482.70,140.40 L483.10,139.10 L483.80,140.00 L485.00,121.70 L485.60,119.10 L486.90,125.60 L488.20,132.00 L488.90,136.50 L490.10,137.20 L491.20,139.50 L492.70,142.30 L494.00,143.60 L495.30,144.20 L496.60,145.50 L497.90,146.80 L498.40,143.00 L499.20,126.90 L500.40,132.00 L501.70,139.10 L502.30,139.30 L503.70,134.60 L505.60,129.40 L508.20,124.90 L510.10,123.00 L511.90,123.30 L513.20,125.60 L514.50,125.60 L516.00,124.30 L518.10,122.60 L520.30,124.90 L522.90,125.30 L525.40,125.60 L526.70,126.20 L529.30,125.60 L532.50,127.10 L535.70,124.90 L540.00,122.70 L546.40,119.40 L552.90,115.80 L556.70,112.60 L560.60,109.10 L565.70,106.60 L572.20,105.30 L580.00,103.80 L591.00,100.80 L603.80,97.00 L611.70,95.50 L616.60,94.90 L627.00,92.10 L638.00,89.30 L648.00,86.00 L660.30,81.80 L676.50,77.70 L698.20,73.10" fill="none" stroke="#f00" stroke-width="1.6" stroke-linejoin="round"/>
<rect x="66.85" y="212.65" width="5.50" height="5.50" fill="#fff" stroke="#000" stroke-width="1.35"/>
<rect x="67.55" y="212.35" width="5.50" height="5.50" fill="#fff" stroke="#000" stroke-width="1.35"/>
<rect x="67.65" y="174.55" width="5.50" height="5.50" fill="#fff" stroke="#000" stroke-width="1.35"/>
<rect x="69.25" y="157.55" width="5.50" height="5.50" fill="#fff" stroke="#000" stroke-width="1.35"/>
<rect x="70.35" y="141.75" width="5.50" height="5.50" fill="#fff" stroke="#000" stroke-width="1.35"/>
<rect x="85.85" y="57.15" width="5.50" height="5.50" fill="#fff" stroke="#000" stroke-width="1.35"/>
<rect x="116.05" y="37.65" width="5.50" height="5.50" fill="#fff" stroke="#000" stroke-width="1.35"/>
<rect x="146.45" y="41.35" width="5.50" height="5.50" fill="#fff" stroke="#000" stroke-width="1.35"/>
<rect x="176.65" y="51.35" width="5.50" height="5.50" fill="#fff" stroke="#000" stroke-width="1.35"/>
<rect x="206.85" y="63.25" width="5.50" height="5.50" fill="#fff" stroke="#000" stroke-width="1.35"/>
<rect x="236.45" y="75.55" width="5.50" height="5.50" fill="#fff" stroke="#000" stroke-width="1.35"/>
<rect x="266.65" y="84.55" width="5.50" height="5.50" fill="#fff" stroke="#000" stroke-width="1.35"/>
<rect x="296.85" y="91.95" width="5.50" height="5.50" fill="#fff" stroke="#000" stroke-width="1.35"/>
<rect x="326.75" y="97.35" width="5.50" height="5.50" fill="#fff" stroke="#000" stroke-width="1.35"/>
<polygon points="69.60,212.30 72.28,216.95 66.92,216.95" fill="#fff" stroke="#f00" stroke-width="1.35"/>
<polygon points="70.30,211.90 72.98,216.55 67.62,216.55" fill="#fff" stroke="#f00" stroke-width="1.35"/>
<polygon points="70.40,172.40 73.08,177.05 67.72,177.05" fill="#fff" stroke="#f00" stroke-width="1.35"/>
<polygon points="71.40,161.70 74.08,166.35 68.72,166.35" fill="#fff" stroke="#f00" stroke-width="1.35"/>
<polygon points="72.00,155.10 74.68,159.75 69.32,159.75" fill="#fff" stroke="#f00" stroke-width="1.35"/>
<polygon points="73.10,142.40 75.78,147.05 70.42,147.05" fill="#fff" stroke="#f00" stroke-width="1.35"/>
<polygon points="84.70,93.90 87.38,98.55 82.02,98.55" fill="#fff" stroke="#f00" stroke-width="1.35"/>
<polygon points="115.20,77.10 117.88,81.75 112.52,81.75" fill="#fff" stroke="#f00" stroke-width="1.35"/>
<polygon points="145.00,87.10 147.68,91.75 142.32,91.75" fill="#fff" stroke="#f00" stroke-width="1.35"/>
<polygon points="175.20,99.30 177.88,103.95 172.52,103.95" fill="#fff" stroke="#f00" stroke-width="1.35"/>
<polygon points="205.10,109.20 207.78,113.85 202.42,113.85" fill="#fff" stroke="#f00" stroke-width="1.35"/>
<polygon points="235.30,116.90 237.98,121.55 232.62,121.55" fill="#fff" stroke="#f00" stroke-width="1.35"/>
<polygon points="265.60,122.40 268.28,127.05 262.92,127.05" fill="#fff" stroke="#f00" stroke-width="1.35"/>
<polygon points="295.50,127.30 298.18,131.95 292.82,131.95" fill="#fff" stroke="#f00" stroke-width="1.35"/>
<polygon points="325.40,130.10 328.08,134.75 322.72,134.75" fill="#fff" stroke="#f00" stroke-width="1.35"/>
<rect x="420.85" y="197.85" width="5.50" height="5.50" fill="#fff" stroke="#000" stroke-width="1.35"/>
<rect x="447.75" y="197.85" width="5.50" height="5.50" fill="#fff" stroke="#000" stroke-width="1.35"/>
<rect x="501.15" y="140.15" width="5.50" height="5.50" fill="#fff" stroke="#000" stroke-width="1.35"/>
<rect x="555.65" y="114.75" width="5.50" height="5.50" fill="#fff" stroke="#000" stroke-width="1.35"/>
<rect x="611.05" y="89.35" width="5.50" height="5.50" fill="#fff" stroke="#000" stroke-width="1.35"/>
<polygon points="423.60,197.40 426.28,202.05 420.92,202.05" fill="#fff" stroke="#f00" stroke-width="1.35"/>
<polygon points="436.10,197.40 438.78,202.05 433.42,202.05" fill="#fff" stroke="#f00" stroke-width="1.35"/>
<polygon points="463.30,197.40 465.98,202.05 460.62,202.05" fill="#fff" stroke="#f00" stroke-width="1.35"/>
<polygon points="490.40,137.10 493.08,141.75 487.72,141.75" fill="#fff" stroke="#f00" stroke-width="1.35"/>
<polygon points="518.10,120.10 520.78,124.75 515.42,124.75" fill="#fff" stroke="#f00" stroke-width="1.35"/>
<polygon points="556.70,109.30 559.38,113.95 554.02,113.95" fill="#fff" stroke="#f00" stroke-width="1.35"/>
<polygon points="611.70,92.30 614.38,96.95 609.02,96.95" fill="#fff" stroke="#f00" stroke-width="1.35"/>
<rect x="200.50" y="18.60" width="131.50" height="37.50" fill="#fff" stroke="#444" stroke-width="1"/><line x1="205.30" y1="29.70" x2="229.30" y2="29.70" stroke="#000" stroke-width="1.6"/><rect x="214.35" y="26.75" width="5.90" height="5.90" fill="#fff" stroke="#000" stroke-width="1.4"/><line x1="205.30" y1="44.90" x2="229.30" y2="44.90" stroke="#f00" stroke-width="1.6"/><polygon points="217.30,41.80 220.16,46.75 214.44,46.75" fill="#fff" stroke="#f00" stroke-width="1.4"/><text transform="translate(279.40,32.50) scale(1.0,0.95)" text-anchor="middle" class="lg" style="font-size:11.5px;letter-spacing:0.6px">without projectile</text><text transform="translate(279.40,47.80) scale(1.0,0.95)" text-anchor="middle" class="lg" style="font-size:11.5px;letter-spacing:0.6px">with projectile</text>
<rect x="556.60" y="12.90" width="133.10" height="37.00" fill="#fff" stroke="#444" stroke-width="1"/><line x1="561.10" y1="23.70" x2="585.90" y2="23.70" stroke="#000" stroke-width="1.6"/><rect x="570.55" y="20.75" width="5.90" height="5.90" fill="#fff" stroke="#000" stroke-width="1.4"/><line x1="561.10" y1="39.40" x2="585.90" y2="39.40" stroke="#f00" stroke-width="1.6"/><polygon points="573.50,36.30 576.36,41.25 570.64,41.25" fill="#fff" stroke="#f00" stroke-width="1.4"/><text transform="translate(636.70,26.50) scale(1.0,0.95)" text-anchor="middle" class="lg" style="font-size:11.5px;letter-spacing:0.6px">without projectile</text><text transform="translate(636.70,41.90) scale(1.0,0.95)" text-anchor="middle" class="lg" style="font-size:11.5px;letter-spacing:0.6px">with projectile</text>
<text transform="translate(63.30,242.95) scale(1.0,1.02)" text-anchor="end" class="tk" style="font-size:16.3px">200</text>
<text transform="translate(63.30,217.84) scale(1.0,1.02)" text-anchor="end" class="tk" style="font-size:16.3px">300</text>
<text transform="translate(63.30,192.73) scale(1.0,1.02)" text-anchor="end" class="tk" style="font-size:16.3px">400</text>
<text transform="translate(63.30,167.62) scale(1.0,1.02)" text-anchor="end" class="tk" style="font-size:16.3px">500</text>
<text transform="translate(63.30,142.51) scale(1.0,1.02)" text-anchor="end" class="tk" style="font-size:16.3px">600</text>
<text transform="translate(63.30,117.39) scale(1.0,1.02)" text-anchor="end" class="tk" style="font-size:16.3px">700</text>
<text transform="translate(63.30,92.28) scale(1.0,1.02)" text-anchor="end" class="tk" style="font-size:16.3px">800</text>
<text transform="translate(63.30,67.17) scale(1.0,1.02)" text-anchor="end" class="tk" style="font-size:16.3px">900</text>
<text transform="translate(63.30,42.06) scale(1.0,1.02)" text-anchor="end" class="tk" style="font-size:16.3px">1 000</text>
<text transform="translate(63.30,16.95) scale(1.0,1.02)" text-anchor="end" class="tk" style="font-size:16.3px">1 100</text>
<text transform="translate(68.80,253.60) scale(1.0,1.02)" text-anchor="middle" class="tk" style="font-size:16.3px">0</text>
<text transform="translate(98.99,253.60) scale(1.0,1.02)" text-anchor="middle" class="tk" style="font-size:16.3px">1</text>
<text transform="translate(129.18,253.60) scale(1.0,1.02)" text-anchor="middle" class="tk" style="font-size:16.3px">2</text>
<text transform="translate(159.37,253.60) scale(1.0,1.02)" text-anchor="middle" class="tk" style="font-size:16.3px">3</text>
<text transform="translate(189.56,253.60) scale(1.0,1.02)" text-anchor="middle" class="tk" style="font-size:16.3px">4</text>
<text transform="translate(219.74,253.60) scale(1.0,1.02)" text-anchor="middle" class="tk" style="font-size:16.3px">5</text>
<text transform="translate(249.93,253.60) scale(1.0,1.02)" text-anchor="middle" class="tk" style="font-size:16.3px">6</text>
<text transform="translate(280.12,253.60) scale(1.0,1.02)" text-anchor="middle" class="tk" style="font-size:16.3px">7</text>
<text transform="translate(310.31,253.60) scale(1.0,1.02)" text-anchor="middle" class="tk" style="font-size:16.3px">8</text>
<text transform="translate(340.50,253.60) scale(1.0,1.02)" text-anchor="middle" class="tk" style="font-size:16.3px">9</text>
<text transform="translate(417.60,239.95) scale(1.0,1.02)" text-anchor="end" class="tk" style="font-size:16.3px">200</text>
<text transform="translate(417.60,201.78) scale(1.0,1.02)" text-anchor="end" class="tk" style="font-size:16.3px">300</text>
<text transform="translate(417.60,163.62) scale(1.0,1.02)" text-anchor="end" class="tk" style="font-size:16.3px">400</text>
<text transform="translate(417.60,125.45) scale(1.0,1.02)" text-anchor="end" class="tk" style="font-size:16.3px">500</text>
<text transform="translate(417.60,87.28) scale(1.0,1.02)" text-anchor="end" class="tk" style="font-size:16.3px">600</text>
<text transform="translate(417.60,49.12) scale(1.0,1.02)" text-anchor="end" class="tk" style="font-size:16.3px">700</text>
<text transform="translate(417.60,10.95) scale(1.0,1.02)" text-anchor="end" class="tk" style="font-size:16.3px">800</text>
<text transform="translate(423.50,251.00) scale(1.0,1.02)" text-anchor="middle" class="tk" style="font-size:16.3px">0</text>
<text transform="translate(561.00,251.00) scale(1.0,1.02)" text-anchor="middle" class="tk" style="font-size:16.3px">0.1</text>
<text transform="translate(629.75,251.00) scale(1.0,1.02)" text-anchor="middle" class="tk" style="font-size:16.3px">0.15</text>
<text transform="translate(698.50,251.00) scale(1.0,1.02)" text-anchor="middle" class="tk" style="font-size:16.3px">0.2</text>
<text transform="translate(469.40,253.60) scale(1.0,1.02)" text-anchor="middle" class="tk" style="font-size:16.3px">5</text>
<text transform="translate(479.80,255.30) scale(1.1,1.1)" text-anchor="middle" class="tk" style="font-size:16.3px">·</text>
<text transform="translate(494.30,253.60) scale(1.0,1.02)" text-anchor="middle" class="tk" style="font-size:16.3px">10</text>
<text transform="translate(507.40,248.40) scale(1.5,1.0)" text-anchor="middle" class="tk" style="font-size:10.5px">−</text>
<text transform="translate(514.60,247.20) scale(1.0,1.08)" text-anchor="middle" class="tk" style="font-size:10.5px">2</text>
<text transform="translate(186.70,278.50) scale(1.05,1.08)" text-anchor="middle" class="tk" style="font-size:16.5px;stroke-width:0.1px">t</text><text transform="translate(199.50,278.60) scale(0.8,1.18)" text-anchor="middle" class="tk" style="font-size:16.5px;stroke-width:0.4px">[</text><text transform="translate(211.65,278.50) scale(1.0,1.08)" text-anchor="middle" class="tk" style="font-size:16.5px">ms</text><text transform="translate(223.20,278.60) scale(0.8,1.18)" text-anchor="middle" class="tk" style="font-size:16.5px;stroke-width:0.4px">]</text>
<text transform="translate(542.90,278.50) scale(1.05,1.08)" text-anchor="middle" class="tk" style="font-size:16.5px;stroke-width:0.1px">t</text><text transform="translate(555.70,278.60) scale(0.8,1.18)" text-anchor="middle" class="tk" style="font-size:16.5px;stroke-width:0.4px">[</text><text transform="translate(567.85,278.50) scale(1.0,1.08)" text-anchor="middle" class="tk" style="font-size:16.5px">ms</text><text transform="translate(579.40,278.60) scale(0.8,1.18)" text-anchor="middle" class="tk" style="font-size:16.5px;stroke-width:0.4px">]</text>
<g transform="translate(13.90,139.00) rotate(-90)"><text transform="translate(0.00,0.00) scale(1.0,1.08)" text-anchor="middle" class="tk" style="font-size:16.5px">T</text></g><g transform="translate(13.90,114.85) rotate(-90)"><text transform="translate(-8.25,0.10) scale(0.8,1.2)" text-anchor="middle" class="tk" style="font-size:16.5px;stroke-width:0.4px">[</text><text transform="translate(0.00,0.00) scale(0.95,1.08)" text-anchor="middle" class="tk" style="font-size:16.5px">K</text><text transform="translate(8.00,0.10) scale(0.8,1.2)" text-anchor="middle" class="tk" style="font-size:16.5px;stroke-width:0.4px">]</text></g>
<g transform="translate(378.20,134.40) rotate(-90)"><text transform="translate(0.00,0.00) scale(1.0,1.08)" text-anchor="middle" class="tk" style="font-size:16.5px">T</text></g><g transform="translate(378.20,110.70) rotate(-90)"><text transform="translate(-8.25,0.10) scale(0.8,1.2)" text-anchor="middle" class="tk" style="font-size:16.5px;stroke-width:0.4px">[</text><text transform="translate(0.00,0.00) scale(0.95,1.08)" text-anchor="middle" class="tk" style="font-size:16.5px">K</text><text transform="translate(8.00,0.10) scale(0.8,1.2)" text-anchor="middle" class="tk" style="font-size:16.5px;stroke-width:0.4px">]</text></g>
<text transform="translate(168.80,308.70) scale(1.0,1.08)" text-anchor="middle" class="cap" style="font-size:13.5px">(a)</text>
<text transform="translate(533.80,308.70) scale(1.0,1.08)" text-anchor="middle" class="cap" style="font-size:13.5px">(b)</text>
</g></svg>
</body></html>
